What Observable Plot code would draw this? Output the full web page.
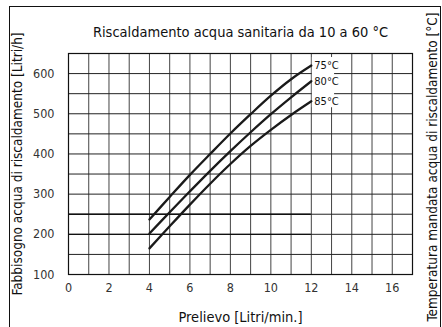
<!DOCTYPE html>
<html>
<head>
<meta charset="utf-8">
<script src="https://cdn.jsdelivr.net/npm/d3@7"></script>
<script src="https://cdn.jsdelivr.net/npm/@observablehq/plot@0.6"></script>
<style>
  html, body { margin: 0; padding: 0; background: #fff; }
  #wrap { position: relative; width: 442px; height: 327px; }
  #border { position: absolute; left: 9px; top: 6px; width: 430px; height: 320px; border: 1.5px solid #111; pointer-events: none; }
</style>
</head>
<body>
<div id="wrap"><div id="border"></div></div>
<script>
const title = "Riscaldamento acqua sanitaria da 10 a 60 °C";
const xLabel = "Prelievo [Litri/min.]";
const yLabel = "Fabbisogno acqua di riscaldamento [Litri/h]";
const y2Label = "Temperatura mandata acqua di riscaldamento [°C]";

const xs = [4, 5, 6, 7, 8, 9, 10, 11, 12];
const t75 = [237, 293, 348, 400, 451, 499, 545, 586, 620];
const t80 = [202, 255, 307, 358, 407, 454, 499, 541, 581];
const t85 = [165, 220, 274, 326, 375, 420, 460, 497, 531];
const seriesNames = ["75°C", "80°C", "85°C"];
const seriesValues = [t75, t80, t85];

const xTicks = [0, 2, 4, 6, 8, 10, 12, 14, 16];
const yTicks = [100, 200, 300, 400, 500, 600];
const xGrid = d3.range(0, 18);
const yGrid = d3.range(100, 651, 50);

const rows = seriesNames.flatMap((s, i) => xs.map((x, j) => ({series: s, x, y: seriesValues[i][j]})));
const ends = seriesNames.map((s, i) => ({series: s, x: xs[xs.length - 1], y: seriesValues[i][xs.length - 1]}));

const titleFont = "'DejaVu Sans Condensed', sans-serif";

const chart = Plot.plot({
  width: 442,
  height: 327,
  marginLeft: 68,
  marginRight: 30,
  marginTop: 53,
  marginBottom: 53,
  style: {fontFamily: "'DejaVu Sans Condensed', sans-serif", fontSize: "12.5px", background: "transparent", color: "#111"},
  x: {domain: [0, 17]},
  y: {domain: [100, 650]},
  marks: [
    Plot.ruleX(xGrid, {stroke: "#444", strokeWidth: 1}),
    Plot.ruleY(yGrid, {stroke: "#222", strokeWidth: 1}),
    Plot.ruleY([250], {x1: 0, x2: 12, stroke: "#111", strokeWidth: 1.6}),
    Plot.ruleY([200], {x1: 0, x2: 12, stroke: "#111", strokeWidth: 1.3}),
    Plot.rect([{}], {x1: 12.05, x2: 13.15, y1: 515, y2: 640, fill: "white"}),
    Plot.frame({stroke: "#111", strokeWidth: 1.2}),
    Plot.line(rows, {x: "x", y: "y", z: "series", curve: "catmull-rom", stroke: "#1a1a1a", strokeWidth: 2.3}),
    Plot.text(ends, {x: "x", y: "y", text: "series", textAnchor: "start", dx: 3, fontSize: 11, fill: "#111"}),
    Plot.axisX(xTicks, {tickSize: 0, tickPadding: 9, fontSize: 12.5, label: null, fill: "#333"}),
    Plot.axisY(yTicks, {tickSize: 0, tickPadding: 14, fontSize: 12.5, label: null, fill: "#333"}),
    Plot.text([title], {frameAnchor: "top", dy: -27, fontSize: 14.5, fontFamily: titleFont, fill: "#111"}),
    Plot.text([xLabel], {frameAnchor: "bottom", dy: 47, fontSize: 14.5, fontFamily: titleFont, fill: "#111"}),
    Plot.text([yLabel], {frameAnchor: "left", textAnchor: "middle", dx: -51, rotate: -90, fontSize: 13.5, fontFamily: titleFont, fill: "#111"}),
    Plot.text([y2Label], {frameAnchor: "right", textAnchor: "middle", dx: 20, dy: 3, rotate: -90, fontSize: 13.5, fontFamily: titleFont, fill: "#111"})
  ]
});
document.getElementById("wrap").appendChild(chart);
</script>
</body>
</html>
